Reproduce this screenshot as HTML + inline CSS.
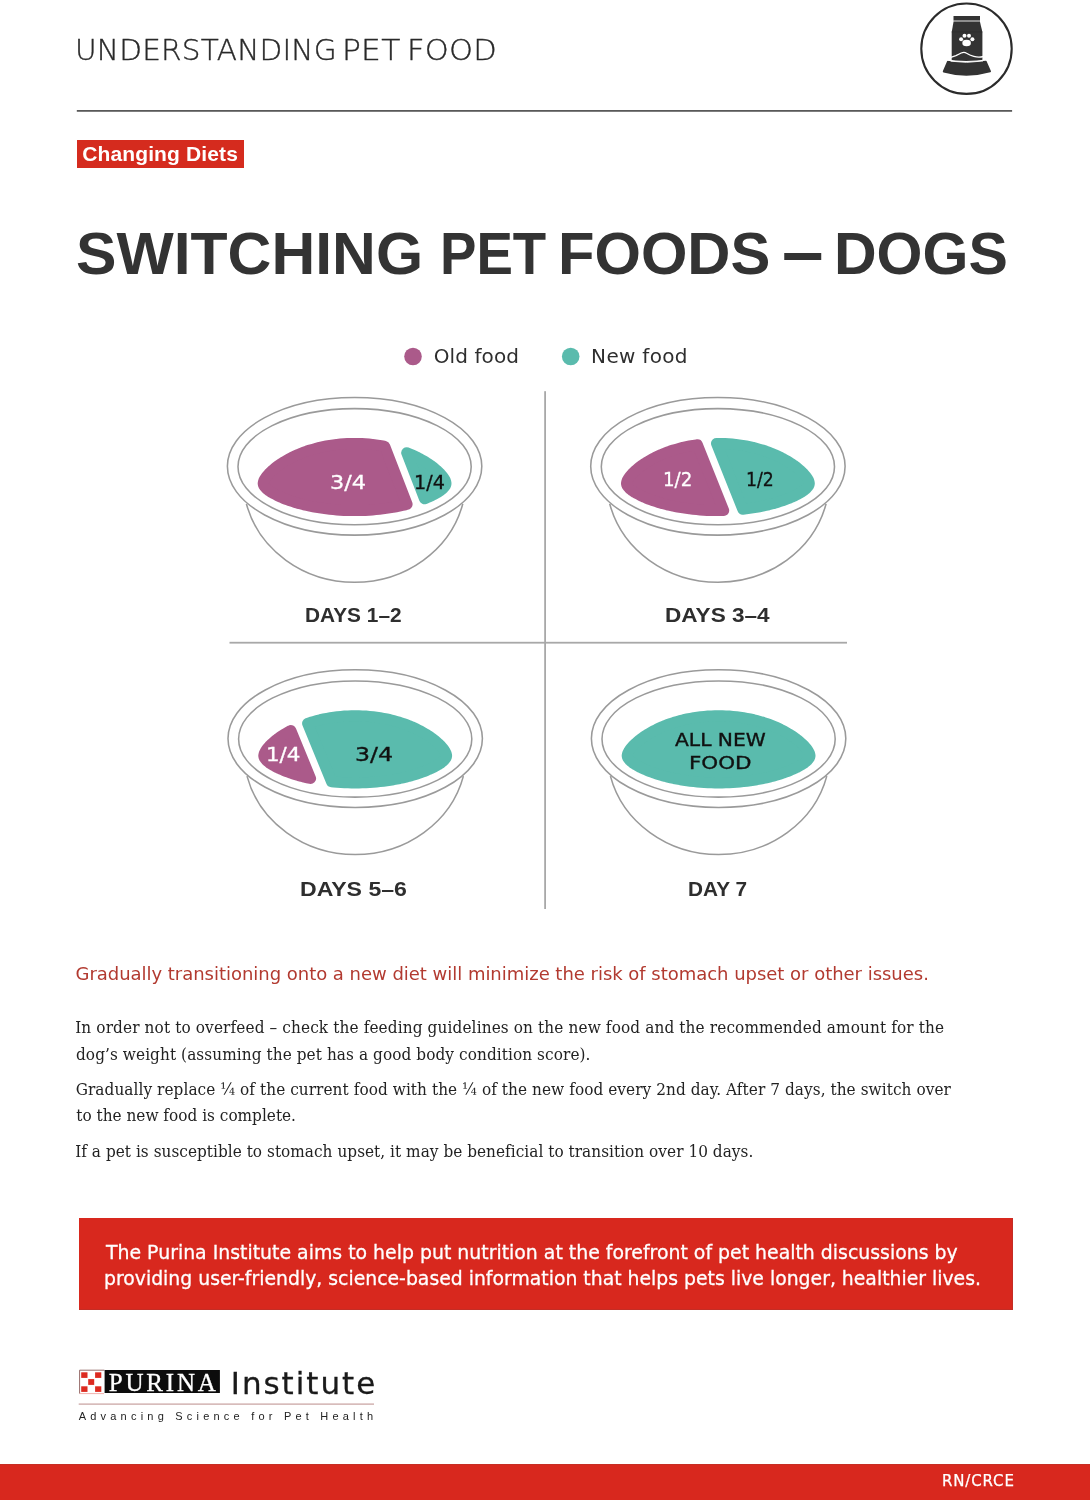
<!DOCTYPE html>
<html lang="en">
<head>
<meta charset="utf-8">
<title>Switching Pet Foods – Dogs</title>
<style>
html,body{margin:0;padding:0;background:#fff;}
body{width:1090px;height:1500px;position:relative;overflow:hidden;font-family:"Liberation Sans",sans-serif;color:#333;}
.t{position:absolute;white-space:nowrap;line-height:1;margin:0;}
#gfx{position:absolute;left:0;top:0;}
.h{margin:0;padding:0;font-size:0;line-height:0;font-weight:normal;}
#badge{left:77.3px;top:139.6px;width:166.5px;height:28.3px;background:#d52b1e;position:absolute;}
#box{position:absolute;left:78.8px;top:1217.5px;width:933.6px;height:91.6px;background:#d8281e;border-right:1.4px solid #c42d25;border-bottom:1.4px solid #c42d25;}
#foot{position:absolute;left:0;top:1463.7px;width:1090px;height:34.9px;background:#d8281e;border-top:1.4px solid #c62e24;}
</style>
</head>
<body>
<svg id="gfx" width="1090" height="1500" viewBox="0 0 1090 1500">
<!-- header rule -->
<rect x="76.8" y="110.1" width="935.3" height="1.6" fill="#484848"/>
<!-- icon -->
<g id="icon">
<circle cx="966.5" cy="48.7" r="45.2" fill="#fff" stroke="#2b2b2b" stroke-width="2.1"/>
<path d="M953.5 16h26.5v4.1h-26.5z" fill="#333"/>
<rect x="953.5" y="20" width="26.5" height="2" fill="#8c8c8c"/>
<path d="M953.5 22H980L982.4 31.9V61.6H951.7V31.9Z" fill="#333"/>
<path d="M951.7 31.9H982.4" stroke="#2a2a2a" stroke-width="0.6" fill="none"/>
<g fill="#fff">
<ellipse cx="966.6" cy="43.0" rx="4.3" ry="3.3"/>
<circle cx="961.1" cy="39.2" r="2"/>
<circle cx="964.5" cy="35.7" r="2"/>
<circle cx="969.0" cy="35.7" r="2"/>
<circle cx="972.4" cy="39.2" r="2"/>
</g>
<path d="M950.8 57.3L955.9 55.7Q959 54.2 961.2 53Q964.2 51.6 966.6 53.2Q969.5 55 973.8 56.3Q978.5 57.7 983.3 56.5" fill="none" stroke="#fff" stroke-width="1.3" stroke-linecap="butt"/>
<path d="M948 61.6Q966.6 64.7 985.6 61.4L990 71.3Q966.6 78 943.8 71.5Z" fill="#333" stroke="#333" stroke-width="2" stroke-linejoin="round"/>
<path d="M945.6 59.9Q966.6 63.2 988 59.7" fill="none" stroke="#fff" stroke-width="1.1"/>
<path d="M950.6 61.2Q966.6 63.6 983 61" fill="none" stroke="#fff" stroke-width="0.9"/>
</g>
<!-- grid lines -->
<rect x="544.2" y="391.2" width="1.8" height="517.8" fill="#a8a8a8"/>
<rect x="229.5" y="641.8" width="617.5" height="1.8" fill="#a8a8a8"/>
<!-- legend dots -->
<circle cx="413" cy="356.5" r="8.8" fill="#ab5a8a"/>
<circle cx="570.7" cy="356.5" r="8.8" fill="#5abbad"/>
<g fill="none" stroke="#9a9a9a" stroke-width="1.55">
<path d="M246.4 503.8 A111.5 103.4 0 0 0 462.8 503.8" fill="#fff"/>
<ellipse cx="354.6" cy="466.3" rx="127.2" ry="68.8" fill="#fff"/>
<ellipse cx="354.6" cy="466.7" rx="116.6" ry="58.1"/>
</g>
<g fill="none" stroke="#9a9a9a" stroke-width="1.55">
<path d="M609.7 503.8 A111.5 103.4 0 0 0 826.1 503.8" fill="#fff"/>
<ellipse cx="717.9" cy="466.3" rx="127.2" ry="68.8" fill="#fff"/>
<ellipse cx="717.9" cy="466.7" rx="116.6" ry="58.1"/>
</g>
<g fill="none" stroke="#9a9a9a" stroke-width="1.55">
<path d="M247.0 776.1 A111.5 103.4 0 0 0 463.4 776.1" fill="#fff"/>
<ellipse cx="355.2" cy="738.6" rx="127.2" ry="68.8" fill="#fff"/>
<ellipse cx="355.2" cy="739.0" rx="116.6" ry="58.1"/>
</g>
<g fill="none" stroke="#9a9a9a" stroke-width="1.55">
<path d="M610.4 776.1 A111.5 103.4 0 0 0 826.8 776.1" fill="#fff"/>
<ellipse cx="718.6" cy="738.6" rx="127.2" ry="68.8" fill="#fff"/>
<ellipse cx="718.6" cy="739.0" rx="116.6" ry="58.1"/>
</g>
<path d="M263.2 483.5 L263.3 482.7 L263.5 481.8 L263.8 480.8 L264.3 479.8 L265.0 478.7 L265.7 477.5 L266.6 476.3 L267.7 475.0 L268.8 473.7 L270.2 472.3 L271.6 471.0 L273.2 469.6 L274.9 468.1 L276.7 466.7 L278.6 465.3 L280.7 463.9 L282.8 462.5 L285.1 461.1 L287.5 459.7 L290.0 458.3 L292.6 457.0 L295.2 455.8 L298.0 454.5 L300.9 453.3 L303.8 452.2 L306.8 451.1 L309.9 450.1 L313.1 449.2 L316.3 448.3 L319.6 447.4 L323.0 446.7 L326.4 446.0 L329.8 445.4 L333.3 444.9 L336.8 444.4 L340.3 444.1 L343.9 443.8 L347.4 443.6 L351.0 443.4 L354.6 443.4 L358.2 443.4 L361.8 443.6 L365.3 443.8 L368.9 444.1 L372.4 444.4 L375.9 444.9 L379.4 445.4 L382.8 446.0 L384.8 446.4 L407.1 504.3 L405.4 504.8 L402.4 505.5 L399.3 506.2 L396.1 506.8 L392.9 507.4 L389.6 507.9 L386.2 508.4 L382.8 508.9 L379.4 509.3 L375.9 509.6 L372.4 509.9 L368.9 510.2 L365.3 510.4 L361.8 510.5 L358.2 510.6 L354.6 510.6 L351.0 510.6 L347.4 510.5 L343.9 510.4 L340.3 510.2 L336.8 509.9 L333.3 509.6 L329.8 509.3 L326.4 508.9 L323.0 508.4 L319.6 507.9 L316.3 507.4 L313.1 506.8 L309.9 506.2 L306.8 505.5 L303.8 504.8 L300.9 504.0 L298.0 503.3 L295.2 502.4 L292.6 501.6 L290.0 500.8 L287.5 499.9 L285.1 499.0 L282.8 498.1 L280.7 497.1 L278.6 496.2 L276.7 495.3 L274.9 494.3 L273.2 493.4 L271.6 492.5 L270.2 491.6 L268.8 490.7 L267.7 489.8 L266.6 488.9 L265.7 488.0 L265.0 487.2 L264.3 486.4 L263.8 485.6 L263.5 484.9 L263.3 484.2Z" fill="#ab5a8a" stroke="#ab5a8a" stroke-width="11.0" stroke-linejoin="round"/>
<path d="M406.7 452.7 L408.3 453.3 L411.2 454.5 L414.0 455.8 L416.6 457.0 L419.2 458.3 L421.7 459.7 L424.1 461.1 L426.4 462.5 L428.5 463.9 L430.6 465.3 L432.5 466.7 L434.3 468.1 L436.0 469.6 L437.6 471.0 L439.0 472.3 L440.4 473.7 L441.5 475.0 L442.6 476.3 L443.5 477.5 L444.2 478.7 L444.9 479.8 L445.4 480.8 L445.7 481.8 L445.9 482.7 L446.0 483.5 L445.9 484.2 L445.7 484.9 L445.4 485.6 L444.9 486.4 L444.2 487.2 L443.5 488.0 L442.6 488.9 L441.5 489.8 L440.4 490.7 L439.0 491.6 L437.6 492.5 L436.0 493.4 L434.3 494.3 L432.5 495.3 L430.6 496.2 L428.5 497.1 L426.4 498.1 L424.5 498.8Z" fill="#5abbad" stroke="#5abbad" stroke-width="11.0" stroke-linejoin="round"/>
<path d="M626.5 483.5 L626.6 482.7 L626.8 481.8 L627.1 480.8 L627.6 479.8 L628.3 478.7 L629.0 477.5 L629.9 476.3 L631.0 475.0 L632.1 473.7 L633.5 472.3 L634.9 471.0 L636.5 469.6 L638.2 468.1 L640.0 466.7 L641.9 465.3 L644.0 463.9 L646.1 462.5 L648.4 461.1 L650.8 459.7 L653.3 458.3 L655.9 457.0 L658.5 455.8 L661.3 454.5 L664.2 453.3 L667.1 452.2 L670.1 451.1 L673.2 450.1 L676.4 449.2 L679.6 448.3 L682.9 447.4 L686.3 446.7 L689.7 446.0 L693.1 445.4 L696.6 444.9 L697.4 444.8 L723.7 510.5 L721.5 510.6 L717.9 510.6 L714.3 510.6 L710.7 510.5 L707.2 510.4 L703.6 510.2 L700.1 509.9 L696.6 509.6 L693.1 509.3 L689.7 508.9 L686.3 508.4 L682.9 507.9 L679.6 507.4 L676.4 506.8 L673.2 506.2 L670.1 505.5 L667.1 504.8 L664.2 504.0 L661.3 503.3 L658.5 502.4 L655.9 501.6 L653.3 500.8 L650.8 499.9 L648.4 499.0 L646.1 498.1 L644.0 497.1 L641.9 496.2 L640.0 495.3 L638.2 494.3 L636.5 493.4 L634.9 492.5 L633.5 491.6 L632.1 490.7 L631.0 489.8 L629.9 488.9 L629.0 488.0 L628.3 487.2 L627.6 486.4 L627.1 485.6 L626.8 484.9 L626.6 484.2Z" fill="#ab5a8a" stroke="#ab5a8a" stroke-width="11.0" stroke-linejoin="round"/>
<path d="M716.5 443.4 L717.9 443.4 L721.5 443.4 L725.1 443.6 L728.6 443.8 L732.2 444.1 L735.7 444.4 L739.2 444.9 L742.7 445.4 L746.1 446.0 L749.5 446.7 L752.9 447.4 L756.2 448.3 L759.4 449.2 L762.6 450.1 L765.7 451.1 L768.7 452.2 L771.6 453.3 L774.5 454.5 L777.3 455.8 L779.9 457.0 L782.5 458.3 L785.0 459.7 L787.4 461.1 L789.7 462.5 L791.8 463.9 L793.9 465.3 L795.8 466.7 L797.6 468.1 L799.3 469.6 L800.9 471.0 L802.3 472.3 L803.7 473.7 L804.8 475.0 L805.9 476.3 L806.8 477.5 L807.5 478.7 L808.2 479.8 L808.7 480.8 L809.0 481.8 L809.2 482.7 L809.3 483.5 L809.2 484.2 L809.0 484.9 L808.7 485.6 L808.2 486.4 L807.5 487.2 L806.8 488.0 L805.9 488.9 L804.8 489.8 L803.7 490.7 L802.3 491.6 L800.9 492.5 L799.3 493.4 L797.6 494.3 L795.8 495.3 L793.9 496.2 L791.8 497.1 L789.7 498.1 L787.4 499.0 L785.0 499.9 L782.5 500.8 L779.9 501.6 L777.3 502.4 L774.5 503.3 L771.6 504.0 L768.7 504.8 L765.7 505.5 L762.6 506.2 L759.4 506.8 L756.2 507.4 L752.9 507.9 L749.5 508.4 L746.1 508.9 L742.8 509.3Z" fill="#5abbad" stroke="#5abbad" stroke-width="11.0" stroke-linejoin="round"/>
<path d="M263.8 755.8 L263.9 755.0 L264.1 754.1 L264.4 753.1 L264.9 752.1 L265.6 751.0 L266.3 749.8 L267.2 748.6 L268.3 747.3 L269.4 746.0 L270.8 744.6 L272.2 743.3 L273.8 741.9 L275.5 740.4 L277.3 739.0 L279.2 737.6 L281.3 736.2 L283.4 734.8 L285.7 733.4 L288.1 732.0 L290.6 730.6 L290.9 730.5 L310.6 778.5 L310.5 778.5 L307.4 777.8 L304.4 777.1 L301.5 776.3 L298.6 775.6 L295.8 774.7 L293.2 773.9 L290.6 773.1 L288.1 772.2 L285.7 771.3 L283.4 770.4 L281.3 769.4 L279.2 768.5 L277.3 767.6 L275.5 766.6 L273.8 765.7 L272.2 764.8 L270.8 763.9 L269.4 763.0 L268.3 762.1 L267.2 761.2 L266.3 760.3 L265.6 759.5 L264.9 758.7 L264.4 757.9 L264.1 757.2 L263.9 756.5Z" fill="#ab5a8a" stroke="#ab5a8a" stroke-width="11.0" stroke-linejoin="round"/>
<path d="M307.6 723.4 L310.5 722.4 L313.7 721.5 L316.9 720.6 L320.2 719.7 L323.6 719.0 L327.0 718.3 L330.4 717.7 L333.9 717.2 L337.4 716.7 L340.9 716.4 L344.5 716.1 L348.0 715.9 L351.6 715.7 L355.2 715.7 L358.8 715.7 L362.4 715.9 L365.9 716.1 L369.5 716.4 L373.0 716.7 L376.5 717.2 L380.0 717.7 L383.4 718.3 L386.8 719.0 L390.2 719.7 L393.5 720.6 L396.7 721.5 L399.9 722.4 L403.0 723.4 L406.0 724.5 L408.9 725.6 L411.8 726.8 L414.6 728.1 L417.2 729.3 L419.8 730.6 L422.3 732.0 L424.7 733.4 L427.0 734.8 L429.1 736.2 L431.2 737.6 L433.1 739.0 L434.9 740.4 L436.6 741.9 L438.2 743.3 L439.6 744.6 L441.0 746.0 L442.1 747.3 L443.2 748.6 L444.1 749.8 L444.8 751.0 L445.5 752.1 L446.0 753.1 L446.3 754.1 L446.5 755.0 L446.6 755.8 L446.5 756.5 L446.3 757.2 L446.0 757.9 L445.5 758.7 L444.8 759.5 L444.1 760.3 L443.2 761.2 L442.1 762.1 L441.0 763.0 L439.6 763.9 L438.2 764.8 L436.6 765.7 L434.9 766.6 L433.1 767.6 L431.2 768.5 L429.1 769.4 L427.0 770.4 L424.7 771.3 L422.3 772.2 L419.8 773.1 L417.2 773.9 L414.6 774.7 L411.8 775.6 L408.9 776.3 L406.0 777.1 L403.0 777.8 L399.9 778.5 L396.7 779.1 L393.5 779.7 L390.2 780.2 L386.8 780.7 L383.4 781.2 L380.0 781.6 L376.5 781.9 L373.0 782.2 L369.5 782.5 L365.9 782.7 L362.4 782.8 L358.8 782.9 L355.2 782.9 L351.6 782.9 L348.0 782.8 L344.5 782.7 L340.9 782.5 L337.4 782.2 L333.9 781.9 L331.5 781.7Z" fill="#5abbad" stroke="#5abbad" stroke-width="11.0" stroke-linejoin="round"/>
<path d="M627.2 755.8 L627.3 755.0 L627.5 754.1 L627.8 753.1 L628.3 752.1 L629.0 751.0 L629.7 749.8 L630.6 748.6 L631.7 747.3 L632.8 746.0 L634.2 744.6 L635.6 743.3 L637.2 741.9 L638.9 740.4 L640.7 739.0 L642.6 737.6 L644.7 736.2 L646.8 734.8 L649.1 733.4 L651.5 732.0 L654.0 730.6 L656.6 729.3 L659.2 728.1 L662.0 726.8 L664.9 725.6 L667.8 724.5 L670.8 723.4 L673.9 722.4 L677.1 721.5 L680.3 720.6 L683.6 719.7 L687.0 719.0 L690.4 718.3 L693.8 717.7 L697.3 717.2 L700.8 716.7 L704.3 716.4 L707.9 716.1 L711.4 715.9 L715.0 715.7 L718.6 715.7 L722.2 715.7 L725.8 715.9 L729.3 716.1 L732.9 716.4 L736.4 716.7 L739.9 717.2 L743.4 717.7 L746.8 718.3 L750.2 719.0 L753.6 719.7 L756.9 720.6 L760.1 721.5 L763.3 722.4 L766.4 723.4 L769.4 724.5 L772.3 725.6 L775.2 726.8 L778.0 728.1 L780.6 729.3 L783.2 730.6 L785.7 732.0 L788.1 733.4 L790.4 734.8 L792.5 736.2 L794.6 737.6 L796.5 739.0 L798.3 740.4 L800.0 741.9 L801.6 743.3 L803.0 744.6 L804.4 746.0 L805.5 747.3 L806.6 748.6 L807.5 749.8 L808.2 751.0 L808.9 752.1 L809.4 753.1 L809.7 754.1 L809.9 755.0 L810.0 755.8 L809.9 756.5 L809.7 757.2 L809.4 757.9 L808.9 758.7 L808.2 759.5 L807.5 760.3 L806.6 761.2 L805.5 762.1 L804.4 763.0 L803.0 763.9 L801.6 764.8 L800.0 765.7 L798.3 766.6 L796.5 767.6 L794.6 768.5 L792.5 769.4 L790.4 770.4 L788.1 771.3 L785.7 772.2 L783.2 773.1 L780.6 773.9 L778.0 774.7 L775.2 775.6 L772.3 776.3 L769.4 777.1 L766.4 777.8 L763.3 778.5 L760.1 779.1 L756.9 779.7 L753.6 780.2 L750.2 780.7 L746.8 781.2 L743.4 781.6 L739.9 781.9 L736.4 782.2 L732.9 782.5 L729.3 782.7 L725.8 782.8 L722.2 782.9 L718.6 782.9 L715.0 782.9 L711.4 782.8 L707.9 782.7 L704.3 782.5 L700.8 782.2 L697.3 781.9 L693.8 781.6 L690.4 781.2 L687.0 780.7 L683.6 780.2 L680.3 779.7 L677.1 779.1 L673.9 778.5 L670.8 777.8 L667.8 777.1 L664.9 776.3 L662.0 775.6 L659.2 774.7 L656.6 773.9 L654.0 773.1 L651.5 772.2 L649.1 771.3 L646.8 770.4 L644.7 769.4 L642.6 768.5 L640.7 767.6 L638.9 766.6 L637.2 765.7 L635.6 764.8 L634.2 763.9 L632.8 763.0 L631.7 762.1 L630.6 761.2 L629.7 760.3 L629.0 759.5 L628.3 758.7 L627.8 757.9 L627.5 757.2 L627.3 756.5Z" fill="#5abbad" stroke="#5abbad" stroke-width="11.0" stroke-linejoin="round"/>
<!-- logo -->
<g id="logo">
<rect x="79.2" y="1369.8" width="25.3" height="24.2" fill="#fff"/>
<g fill="#dc2a20">
<rect x="81.2" y="1372.3" width="6.3" height="5.6"/><rect x="95.1" y="1372.3" width="6.2" height="5.6"/>
<rect x="88.2" y="1379.1" width="6" height="5.8"/>
<rect x="81.2" y="1386.3" width="6.3" height="5.6"/><rect x="95.1" y="1386.3" width="6.2" height="5.6"/>
</g>
<path d="M79.6 1393.6V1370.2H104.4" fill="none" stroke="#8a5a58" stroke-width="0.9"/>
<path d="M79.6 1393.6H104" fill="none" stroke="#f0a9a4" stroke-width="0.9"/>
<rect x="104.6" y="1370" width="115.3" height="23" fill="#0c0c0c"/>
<rect x="78.7" y="1403.5" width="295.3" height="1.2" fill="#c7a09e"/>
</g>
</svg>
<div id="badge"></div>
<div id="box"></div>
<div id="foot"></div>
<div class="h"><span class="t" id="h1" style='left:74.67px;top:34.20px;font-family:"DejaVu Sans Light","DejaVu Sans",sans-serif;font-size:28px;line-height:34px;letter-spacing:0.200px;color:#2a2a2a;font-weight:200;-webkit-text-stroke:0.35px #2a2a2a;transform:scaleX(1.0556);transform-origin:0 0;'>UNDERSTANDING</span> <span class="t" id="h2" style='left:342.07px;top:34.20px;font-family:"DejaVu Sans Light","DejaVu Sans",sans-serif;font-size:28px;line-height:34px;letter-spacing:0.200px;color:#2a2a2a;font-weight:200;-webkit-text-stroke:0.35px #2a2a2a;transform:scaleX(1.1187);transform-origin:0 0;'>PET</span> <span class="t" id="h3" style='left:407.36px;top:34.20px;font-family:"DejaVu Sans Light","DejaVu Sans",sans-serif;font-size:28px;line-height:34px;letter-spacing:0.200px;color:#2a2a2a;font-weight:200;-webkit-text-stroke:0.35px #2a2a2a;transform:scaleX(1.0900);transform-origin:0 0;'>FOOD</span></div>
<div class="t" id="bt" style='left:82.14px;top:140.50px;font-family:"Liberation Sans",sans-serif;font-size:21px;line-height:25px;letter-spacing:0.139px;color:#fff;font-weight:bold;'>Changing Diets</div>
<h1 class="h"><span class="t" id="t1" style='left:76.45px;top:219.21px;font-family:"Liberation Sans",sans-serif;font-size:58.7px;line-height:70px;letter-spacing:0.000px;color:#333;font-weight:bold;transform:scaleX(1.0336);transform-origin:0 0;'>SWITCHING</span> <span class="t" id="t2" style='left:440.39px;top:219.21px;font-family:"Liberation Sans",sans-serif;font-size:58.7px;line-height:70px;letter-spacing:0.000px;color:#333;font-weight:bold;transform:scaleX(0.9302);transform-origin:0 0;'>PET</span> <span class="t" id="t3" style='left:557.77px;top:219.21px;font-family:"Liberation Sans",sans-serif;font-size:58.7px;line-height:70px;letter-spacing:0.000px;color:#333;font-weight:bold;transform:scaleX(1.0172);transform-origin:0 0;'>FOODS</span> <span class="t" id="t4" style='left:781.63px;top:220.11px;font-family:"Liberation Sans",sans-serif;font-size:58.7px;line-height:70px;letter-spacing:0.000px;color:#333;font-weight:bold;transform:scale(1.2720,1.2);transform-origin:0 54.99px;'>–</span> <span class="t" id="t5" style='left:833.61px;top:219.21px;font-family:"Liberation Sans",sans-serif;font-size:58.7px;line-height:70px;letter-spacing:0.000px;color:#333;font-weight:bold;transform:scaleX(1.0057);transform-origin:0 0;'>DOGS</span></h1>
<div class="t" id="lg1" style='left:433.66px;top:343.71px;font-family:"DejaVu Sans",sans-serif;font-size:20px;line-height:24px;letter-spacing:0.105px;color:#2e2e2e;'>Old food</div>
<div class="t" id="lg2" style='left:591.12px;top:343.71px;font-family:"DejaVu Sans",sans-serif;font-size:20px;line-height:24px;letter-spacing:0.306px;color:#2e2e2e;'>New food</div>
<div class="t" id="d1" style='left:305.40px;top:604.41px;font-family:"Liberation Sans",sans-serif;font-size:19.5px;line-height:23px;letter-spacing:0.000px;color:#2e2e2e;font-weight:bold;transform:scaleX(1.0695);transform-origin:0 0;'>DAYS 1–2</div>
<div class="t" id="d2" style='left:665.29px;top:604.41px;font-family:"Liberation Sans",sans-serif;font-size:19.5px;line-height:23px;letter-spacing:0.000px;color:#2e2e2e;font-weight:bold;transform:scaleX(1.1586);transform-origin:0 0;'>DAYS 3–4</div>
<div class="t" id="d3" style='left:300.06px;top:877.82px;font-family:"Liberation Sans",sans-serif;font-size:19.5px;line-height:23px;letter-spacing:0.000px;color:#2e2e2e;font-weight:bold;transform:scaleX(1.1835);transform-origin:0 0;'>DAYS 5–6</div>
<div class="t" id="d4" style='left:688.10px;top:877.82px;font-family:"Liberation Sans",sans-serif;font-size:19.5px;line-height:23px;letter-spacing:0.000px;color:#2e2e2e;font-weight:bold;transform:scaleX(1.0665);transform-origin:0 0;'>DAY 7</div>
<div class="t" id="f1" style='left:329.90px;top:470.50px;font-family:"DejaVu Sans",sans-serif;font-size:19.5px;line-height:23px;letter-spacing:0.000px;color:#fff;-webkit-text-stroke:0.3px #fff;transform:scaleX(1.1488);transform-origin:0 0;'>3/4</div>
<div class="t" id="f2" style='left:414.31px;top:470.50px;font-family:"DejaVu Sans",sans-serif;font-size:19.5px;line-height:23px;letter-spacing:0.000px;color:#111;-webkit-text-stroke:0.35px #111;transform:scaleX(0.9816);transform-origin:0 0;'>1/4</div>
<div class="t" id="f3" style='left:663.41px;top:468.21px;font-family:"DejaVu Sans",sans-serif;font-size:19.5px;line-height:23px;letter-spacing:0.000px;color:#fff;-webkit-text-stroke:0.3px #fff;transform:scaleX(0.9343);transform-origin:0 0;'>1/2</div>
<div class="t" id="f4" style='left:746.41px;top:468.21px;font-family:"DejaVu Sans",sans-serif;font-size:19.5px;line-height:23px;letter-spacing:0.000px;color:#111;-webkit-text-stroke:0.35px #111;transform:scaleX(0.8870);transform-origin:0 0;'>1/2</div>
<div class="t" id="f5" style='left:266.46px;top:743.11px;font-family:"DejaVu Sans",sans-serif;font-size:19.5px;line-height:23px;letter-spacing:0.000px;color:#fff;-webkit-text-stroke:0.3px #fff;transform:scaleX(1.0978);transform-origin:0 0;'>1/4</div>
<div class="t" id="f6" style='left:355.22px;top:743.11px;font-family:"DejaVu Sans",sans-serif;font-size:19.5px;line-height:23px;letter-spacing:0.000px;color:#111;-webkit-text-stroke:0.35px #111;transform:scaleX(1.2135);transform-origin:0 0;'>3/4</div>
<div class="t" id="f7" style='left:675.40px;top:728.61px;font-family:"DejaVu Sans",sans-serif;font-size:18px;line-height:22px;letter-spacing:0.000px;color:#111;-webkit-text-stroke:0.35px #111;transform:scaleX(1.1248);transform-origin:0 0;'>ALL NEW</div>
<div class="t" id="f8" style='left:689.49px;top:752.32px;font-family:"DejaVu Sans",sans-serif;font-size:18px;line-height:22px;letter-spacing:0.000px;color:#111;-webkit-text-stroke:0.35px #111;transform:scaleX(1.1914);transform-origin:0 0;'>FOOD</div>
<p class="t" id="lead" style='left:75.46px;top:963.32px;font-family:"DejaVu Sans",sans-serif;font-size:18px;line-height:22px;letter-spacing:-0.025px;color:#b23a30;'>Gradually transitioning onto a new diet will minimize the risk of stomach upset or other issues.</p>
<p class="t" id="b1" style='left:75.20px;top:1017.41px;font-family:"DejaVu Serif Condensed","DejaVu Serif",serif;font-size:17px;line-height:20px;letter-spacing:0.129px;color:#222;font-stretch:condensed;'>In order not to overfeed – check the feeding guidelines on the new food and the recommended amount for the</p>
<p class="t" id="b2" style='left:75.97px;top:1043.50px;font-family:"DejaVu Serif Condensed","DejaVu Serif",serif;font-size:17px;line-height:20px;letter-spacing:0.086px;color:#222;font-stretch:condensed;'>dog’s weight (assuming the pet has a good body condition score).</p>
<p class="t" id="b3" style='left:75.70px;top:1079.30px;font-family:"DejaVu Serif Condensed","DejaVu Serif",serif;font-size:17px;line-height:20px;letter-spacing:0.070px;color:#222;font-stretch:condensed;'>Gradually replace ¼ of the current food with the ¼ of the new food every 2nd day. After 7 days, the switch over</p>
<p class="t" id="b4" style='left:76.23px;top:1104.91px;font-family:"DejaVu Serif Condensed","DejaVu Serif",serif;font-size:17px;line-height:20px;letter-spacing:0.017px;color:#222;font-stretch:condensed;'>to the new food is complete.</p>
<p class="t" id="b5" style='left:75.20px;top:1140.70px;font-family:"DejaVu Serif Condensed","DejaVu Serif",serif;font-size:17px;line-height:20px;letter-spacing:0.041px;color:#222;font-stretch:condensed;'>If a pet is susceptible to stomach upset, it may be beneficial to transition over 10 days.</p>
<p class="t" id="x1" style='left:106.10px;top:1240.00px;font-family:"DejaVu Sans",sans-serif;font-size:20px;line-height:24px;letter-spacing:0.000px;color:#fff;-webkit-text-stroke:0.3px #fff;transform:scaleX(0.9441);transform-origin:0 0;'>The Purina Institute aims to help put nutrition at the forefront of pet health discussions by</p>
<p class="t" id="x2" style='left:104.33px;top:1265.61px;font-family:"DejaVu Sans",sans-serif;font-size:20px;line-height:24px;letter-spacing:0.000px;color:#fff;-webkit-text-stroke:0.3px #fff;transform:scaleX(0.9413);transform-origin:0 0;'>providing user-friendly, science-based information that helps pets live longer, healthier lives.</p>
<div class="t" id="pur" style='left:108.81px;top:1367.50px;font-family:"Liberation Serif",serif;font-size:25px;line-height:30px;letter-spacing:2.802px;color:#fff;-webkit-text-stroke:0.3px #fff;'>PURINA</div>
<div class="t" id="inst" style='left:230.79px;top:1365.30px;font-family:"DejaVu Sans",sans-serif;font-size:31px;line-height:37px;letter-spacing:1.963px;color:#1a1a1a;-webkit-text-stroke:0.3px #1a1a1a;'>Institute</div>
<div class="t" id="tag" style='left:78.70px;top:1410.00px;font-family:"Liberation Sans",sans-serif;font-size:11px;line-height:13px;letter-spacing:4.213px;color:#222;'>Advancing Science for Pet Health</div>
<div class="t" id="rn" style='left:941.99px;top:1471.91px;font-family:"DejaVu Sans",sans-serif;font-size:15px;line-height:18px;letter-spacing:0.853px;color:#fff;-webkit-text-stroke:0.25px #fff;'>RN/CRCE</div>
</body>
</html>
